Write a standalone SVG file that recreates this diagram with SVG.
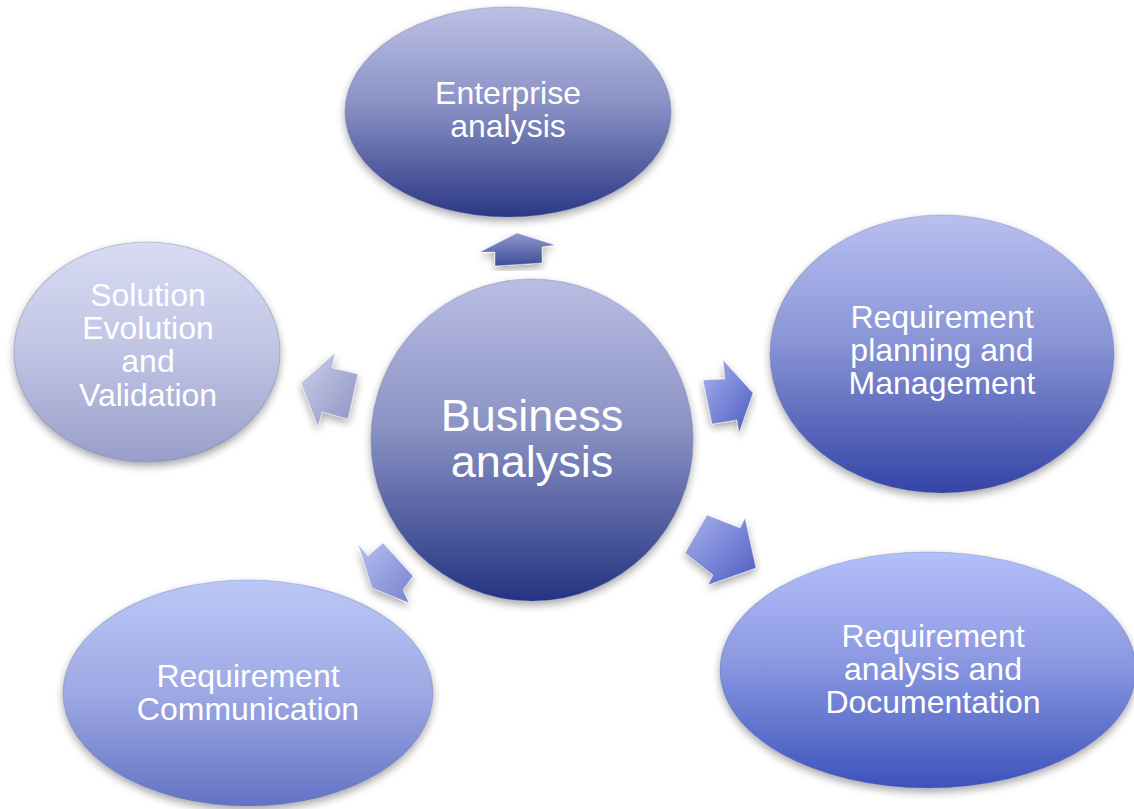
<svg xmlns="http://www.w3.org/2000/svg" width="1134" height="809" viewBox="0 0 1134 809">
<defs>
<linearGradient id="gTop" x1="0" y1="0" x2="0" y2="1">
<stop offset="0" stop-color="#bcc1e4"/><stop offset="0.45" stop-color="#8b93c6"/><stop offset="1" stop-color="#2b3885"/>
</linearGradient>
<linearGradient id="gCenter" x1="0" y1="0" x2="0" y2="1">
<stop offset="0" stop-color="#b9bee3"/><stop offset="0.45" stop-color="#8c94c5"/><stop offset="1" stop-color="#243382"/>
</linearGradient>
<linearGradient id="gLeft" x1="0" y1="0" x2="0" y2="1">
<stop offset="0" stop-color="#d8dbf2"/><stop offset="0.5" stop-color="#c0c4e4"/><stop offset="1" stop-color="#989ec9"/>
</linearGradient>
<linearGradient id="gRT" x1="0" y1="0" x2="0" y2="1">
<stop offset="0" stop-color="#b8c0f0"/><stop offset="0.45" stop-color="#8a95d6"/><stop offset="1" stop-color="#3444a6"/>
</linearGradient>
<linearGradient id="gRB" x1="0" y1="0" x2="0" y2="1">
<stop offset="0" stop-color="#b4c0fa"/><stop offset="0.45" stop-color="#8d9ae2"/><stop offset="1" stop-color="#3c52bc"/>
</linearGradient>
<linearGradient id="gLB" x1="0" y1="0" x2="0" y2="1">
<stop offset="0" stop-color="#bcc7f8"/><stop offset="0.5" stop-color="#9ea9e4"/><stop offset="1" stop-color="#6272c4"/>
</linearGradient>
<linearGradient id="aUp" x1="0" y1="0" x2="0" y2="1">
<stop offset="0" stop-color="#8f98cc"/><stop offset="1" stop-color="#3f4c98"/>
</linearGradient>
<linearGradient id="aLeft" x1="0" y1="0" x2="1" y2="1">
<stop offset="0" stop-color="#ccd0ec"/><stop offset="1" stop-color="#8c92bf"/>
</linearGradient>
<linearGradient id="aRight" x1="0" y1="0" x2="1" y2="1">
<stop offset="0" stop-color="#a9b2ee"/><stop offset="1" stop-color="#4b5bbf"/>
</linearGradient>
<linearGradient id="aLL" x1="0" y1="0" x2="1" y2="1">
<stop offset="0" stop-color="#b7bff0"/><stop offset="1" stop-color="#7682cf"/>
</linearGradient>
<filter id="sh" x="-10%" y="-10%" width="120%" height="125%">
<feGaussianBlur in="SourceAlpha" stdDeviation="4"/>
<feOffset dx="0" dy="4" result="b"/>
<feComponentTransfer><feFuncA type="linear" slope="0.35"/></feComponentTransfer>
<feMerge><feMergeNode/><feMergeNode in="SourceGraphic"/></feMerge>
</filter>
</defs>
<style>
.node{filter:url(#sh);stroke:#5a63a0;stroke-opacity:0.3;stroke-width:1.2}
.lbl{font-family:"Liberation Sans",Arial,sans-serif;fill:#ffffff;text-anchor:middle;font-size:32px}
.big{font-size:45px}
.arr{filter:url(#sh);stroke:#ffffff;stroke-opacity:0.4;stroke-width:1;stroke-linejoin:miter}
</style>
<rect width="1134" height="809" fill="#ffffff"/>

<g id="connectors">
<polygon class="arr" fill="url(#aUp)" points="517,233 555,245 542,247 542,263 495,266 495,252 480,252"/>
<polygon class="arr" fill="url(#aLeft)" points="301,383 335,353 332,368 358,374 348,419 322,412 318,427"/>
<polygon class="arr" fill="url(#aRight)" points="703,380 725,379 723,360 753,393 739,433 737,420 712,424"/>
<polygon class="arr" fill="url(#aRight)" points="707,515 740,528 745,518 756,568 708,585 713,575 685,553"/>
<polygon class="arr" fill="url(#aLL)" points="358,544 368,556 383,543 413,576 403,590 409,603 372,588"/>
</g>

<g id="node-enterprise">
<ellipse class="node" cx="508" cy="112" rx="163" ry="105" fill="url(#gTop)"/>
<text class="lbl" x="508" y="104">Enterprise</text>
<text class="lbl" x="508" y="137">analysis</text>
</g>

<g id="node-solution">
<ellipse class="node" cx="147" cy="352" rx="133" ry="110" fill="url(#gLeft)"/>
<text class="lbl" x="148" y="306">Solution</text>
<text class="lbl" x="148" y="339">Evolution</text>
<text class="lbl" x="148" y="372">and</text>
<text class="lbl" x="148" y="406">Validation</text>
</g>

<g id="node-planning">
<ellipse class="node" cx="942" cy="354" rx="172" ry="139" fill="url(#gRT)"/>
<text class="lbl" x="942" y="328">Requirement</text>
<text class="lbl" x="942" y="361">planning and</text>
<text class="lbl" x="942" y="394">Management</text>
</g>

<g id="node-analysis-doc">
<ellipse class="node" cx="928" cy="670" rx="208" ry="118" fill="url(#gRB)"/>
<text class="lbl" x="933" y="647">Requirement</text>
<text class="lbl" x="933" y="680">analysis and</text>
<text class="lbl" x="933" y="713">Documentation</text>
</g>

<g id="node-communication">
<ellipse class="node" cx="248" cy="693" rx="185" ry="113" fill="url(#gLB)"/>
<text class="lbl" x="248" y="687">Requirement</text>
<text class="lbl" x="248" y="720">Communication</text>
</g>

<g id="node-business">
<circle class="node" cx="532" cy="440" r="161" fill="url(#gCenter)"/>
<text class="lbl big" x="532" y="431">Business</text>
<text class="lbl big" x="532" y="477">analysis</text>
</g>
</svg>
